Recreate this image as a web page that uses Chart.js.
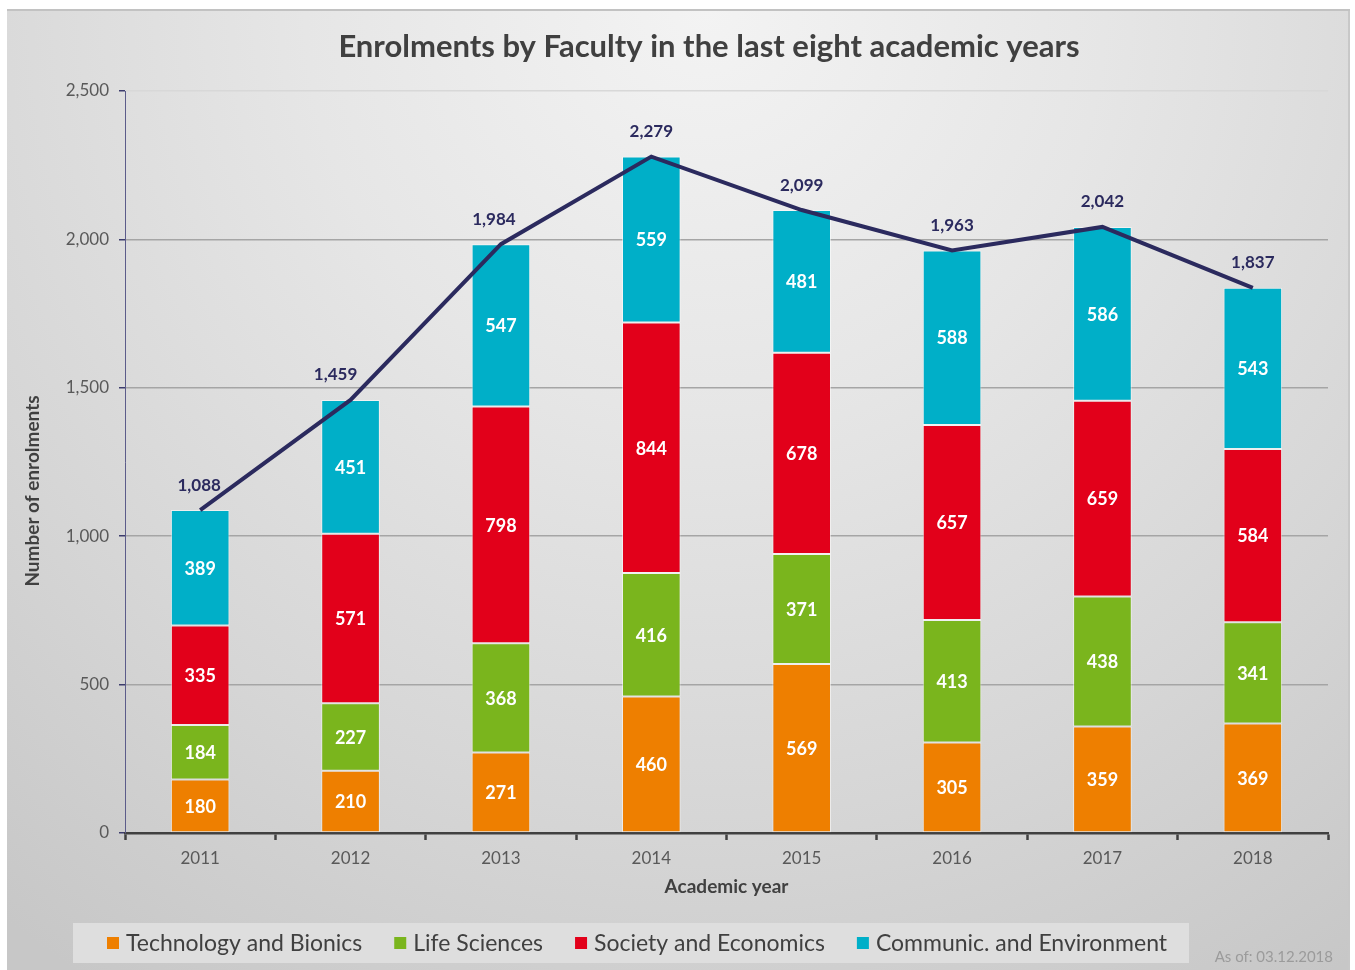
<!DOCTYPE html>
<html><head><meta charset="utf-8">
<script src="https://cdn.jsdelivr.net/npm/chart.js@4"></script>
<style>
html,body{margin:0;padding:0;background:#fff;width:1355px;height:970px;overflow:hidden}
#frame{position:absolute;left:7px;top:9px;width:1343px;height:961px;
 background:radial-gradient(ellipse 85% 120% at 52% 0%, #f3f3f3 0%, #e6e6e6 35%, #d6d6d6 70%, #c7c7c7 100%);
 box-shadow: inset 0 2px 0 #c2c2c2, inset -2px 0 0 #c8c8c8;}
canvas{position:absolute;left:0;top:0}
</style></head>
<body>
<div id="frame"><canvas id="c" width="1343" height="961"></canvas></div>
<script>
const years = ['2011','2012','2013','2014','2015','2016','2017','2018'];
const techBionics   = [180, 210, 271, 460, 569, 305, 359, 369];
const lifeSciences  = [184, 227, 368, 416, 371, 413, 438, 341];
const societyEcon   = [335, 571, 798, 844, 678, 657, 659, 584];
const communicEnv   = [389, 451, 547, 559, 481, 588, 586, 543];
const totals        = [1088, 1459, 1984, 2279, 2099, 1963, 2042, 1837];
const seriesNames = ['Technology and Bionics','Life Sciences','Society and Economics','Communic. and Environment'];
const seriesColors = ['#EE7F00','#7AB51D','#E2001A','#00AFC8'];
const yMin = 0, yMax = 2500, yStep = 500;
const titleText = 'Enrolments by Faculty in the last eight academic years';
const yTitleText = 'Number of enrolments';
const noteText = 'As of: 03.12.2018';
// horizontal nudges of the total labels (px), as placed in the original
const totalLabelShift = [-1, -15, -7, 0, 0, 0, 0, 0];

const FONT = 'Lato';
const fmt = v => Number(v).toLocaleString('en-US');

const barSets = [techBionics, lifeSciences, societyEcon, communicEnv].map((d,i)=>({
  type:'bar', label: seriesNames[i], data: d, backgroundColor: seriesColors[i],
  borderColor:'rgba(255,255,255,0.55)', borderWidth:1, borderSkipped:false,
  stack:'faculties', order:1, barPercentage:0.39, categoryPercentage:1
}));
const lineSet = {
  type:'line', label:'Total', data: totals, borderColor:'#2B2A5E', borderWidth:4,
  pointRadius:0, tension:0, fill:false, stack:'total', order:0
};

const labelPlugin = {
  id:'valueLabels',
  afterDatasetsDraw(chart){
    const ctx = chart.ctx;
    ctx.save();
    ctx.textAlign='center'; ctx.textBaseline='middle';
    chart.data.datasets.forEach((ds,i)=>{
      const meta = chart.getDatasetMeta(i);
      meta.data.forEach((el,j)=>{
        const txt = fmt(ds.data[j]);
        if (ds.type==='line'){
          ctx.fillStyle='#2B2A5E'; ctx.font='bold 17px '+FONT;
          ctx.fillText(txt, el.x + totalLabelShift[j], el.y-25);
        } else {
          ctx.fillStyle='#ffffff'; ctx.font='bold 18px '+FONT;
          ctx.fillText(txt, el.x, (el.y+el.base)/2+1);
        }
      });
    });
    ctx.restore();
  }
};

const decorPlugin = {
  id:'decor',
  afterDraw(chart){
    const ctx = chart.ctx;
    ctx.save();
    // title
    ctx.fillStyle='#404040'; ctx.font='bold 31px '+FONT;
    ctx.textAlign='center'; ctx.textBaseline='middle';
    ctx.fillText(titleText, 702, 38);
    // y axis title
    ctx.save();
    ctx.translate(26, 482); ctx.rotate(-Math.PI/2);
    ctx.font='bold 19px '+FONT; ctx.fillStyle='#404040';
    ctx.fillText(yTitleText, 0, 0);
    ctx.restore();
    // legend box
    ctx.fillStyle='#dedede';
    ctx.fillRect(66, 914, 1116, 40);
    ctx.font='23px '+FONT; ctx.textAlign='left';
    let x = 100; const cy = 934;
    chart.data.datasets.forEach(ds=>{
      if (ds.type==='line') return;
      ctx.fillStyle = ds.backgroundColor;
      ctx.fillRect(x, cy-6, 12, 12);
      ctx.fillStyle='#404040';
      ctx.fillText(ds.label, x+19, cy+1);
      x += 19 + ctx.measureText(ds.label).width + 32;
    });
    // note
    ctx.fillStyle='#9b9b9b'; ctx.font='15px '+FONT; ctx.textAlign='right';
    ctx.fillText(noteText, 1326, 948);
    ctx.restore();
  }
};

new Chart(document.getElementById('c'), {
  data:{ labels: years, datasets:[...barSets, lineSet] },
  options:{
    responsive:false, animation:false,
    layout:{ padding:{ top:82, right:22, bottom:57, left:0 } },
    plugins:{ legend:{display:false}, tooltip:{enabled:false}, title:{display:false} },
    scales:{
      x:{
        stacked:true, offset:true,
        grid:{ offset:true, drawOnChartArea:false, drawTicks:true, tickLength:7, tickColor:'#404040', tickWidth:2.5 },
        border:{ color:'#404040', width:2.5 },
        ticks:{ color:'#595959', font:{family:FONT, size:17}, padding:8 },
        title:{ display:true, text:'Academic year', color:'#404040', font:{family:FONT, size:19, weight:'bold'}, padding:{top:4, bottom:15} },
        afterFit(s){ s.height = 80; }
      },
      y:{
        stacked:true, min:yMin, max:yMax,
        ticks:{ stepSize:yStep, color:'#595959', font:{family:FONT, size:17}, padding:10, callback:v=>fmt(v) },
        grid:{ color:c=> (c.tick && c.tick.value===yMax) ? '#d8d8d8' : '#a5a5a5', lineWidth:1.5, tickLength:6, tickColor:'#3c3c6c', tickWidth:1.5 },
        border:{ color:'#5c5c8a', width:1 },
        title:{ display:false },
        afterFit(s){ s.width = 118; }
      }
    }
  },
  plugins:[labelPlugin, decorPlugin]
});
</script>
</body></html>
